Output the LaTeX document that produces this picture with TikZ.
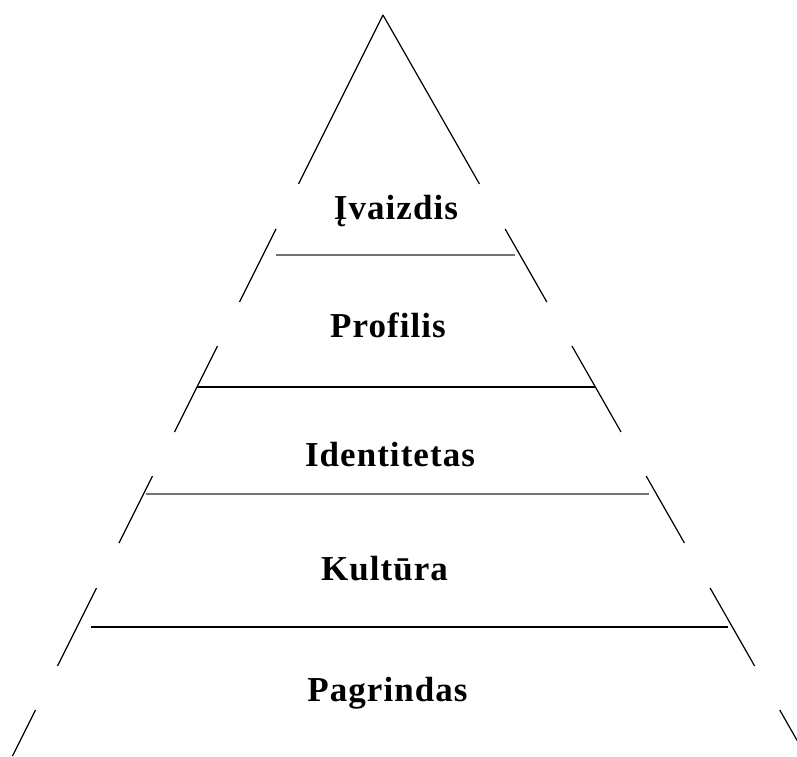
\documentclass[tikz,border=0pt]{standalone}
\usepackage{fontspec}
\setmainfont{Liberation Serif}
\newfontfamily\labelfont[LetterSpace=3]{Liberation Serif}
\usetikzlibrary{calc}
\begin{document}
\begin{tikzpicture}[x=1pt,y=-1pt,
  side/.style={line width=1.2pt, black},
  divider/.style={line width=1.5pt, black},
  softdivider/.style={line width=2pt, black!55},
  level/.style={font=\labelfont\fontsize{35}{40}\selectfont\bfseries, anchor=base, inner sep=0pt}]
\useasboundingbox (0,0) rectangle (797,756);
% outline of the pyramid: apex and the two far base points
\coordinate (apex) at (383,15);
\coordinate (baseL) at (12.5,756);
\coordinate (baseR) at (806,756);
% the sides are broken where each level's label sits
\foreach \a/\b [count=\i] in {15/184, 229/302, 346/432, 476/543, 588/666, 710/756} {
  \coordinate (L\i top) at ($(apex)!{(\a-15)/741}!(baseL)$);
  \coordinate (L\i bot) at ($(apex)!{(\b-15)/741}!(baseL)$);
  \coordinate (R\i top) at ($(apex)!{(\a-15)/741}!(baseR)$);
  \coordinate (R\i bot) at ($(apex)!{(\b-15)/741}!(baseR)$);
  \draw[side] (L\i top) -- (L\i bot);
  \draw[side] (R\i top) -- (R\i bot);
}
% dividers between the levels
\coordinate (d1l) at (276,255);  \coordinate (d1r) at (515,255);
\coordinate (d2l) at (197,387);  \coordinate (d2r) at (595,387);
\coordinate (d3l) at (146,494);  \coordinate (d3r) at (649,494);
\coordinate (d4l) at (91,627);   \coordinate (d4r) at (728,627);
\draw[softdivider] (d1l) -- (d1r);
\draw[divider] (d2l) -- (d2r);
\draw[softdivider] (d3l) -- (d3r);
\draw[divider] (d4l) -- (d4r);
% level labels
\node[level] (image)    at (396,219) {Įvaizdis};
\node[level] (profile)  at (388,337) {Profilis};
\node[level] (identity) at (390,466) {Identitetas};
\node[level] (culture)  at (384.5,580) {Kultūra};
\node[level] (base)     at (387.5,701) {Pagrindas};
\end{tikzpicture}
\end{document}
